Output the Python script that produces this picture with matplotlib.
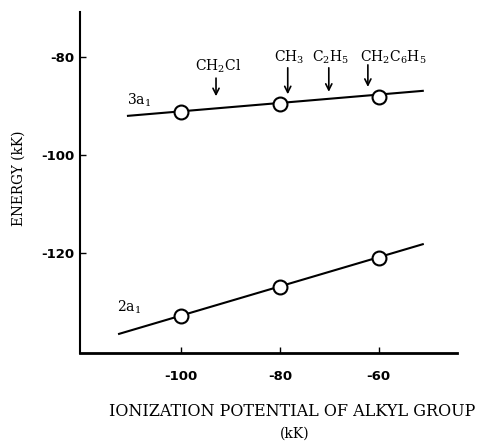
import matplotlib
matplotlib.use("Agg")
import matplotlib.pyplot as plt

# ionization potential of alkyl group (kK) and orbital energies (kK)
ip = [-100, -80, -60]
e_3a1 = [-91.2, -89.6, -88.2]
e_2a1 = [-132.9, -126.9, -121.0]

# drawn straight lines (end points)
line_3a1_x = [-110.7, -51.1]
line_3a1_y = [-92.0, -86.9]
line_2a1_x = [-112.5, -51.1]
line_2a1_y = [-136.5, -118.2]

# alkyl group markers: label, arrow x, arrow top, arrow tip, label x, label y
groups = ['CH$_2$Cl', 'CH$_3$', 'C$_2$H$_5$', 'CH$_2$C$_6$H$_5$']
group_x = [-92.9, -78.4, -70.1, -62.2]
arrow_top = [-84.3, -82.2, -82.2, -81.6]
arrow_tip = [-88.0, -87.6, -87.1, -86.1]
label_x = [-92.5, -78.2, -69.7, -57.0]
label_y = [-81.8, -80.0, -80.0, -80.0]

xticks = [-100, -80, -60]
yticks = [-80, -100, -120]

plt.rcParams['mathtext.fontset'] = 'dejavuserif'

fig = plt.figure(figsize=(4.83, 4.43), dpi=100)
ax = fig.add_axes([0.1656, 0.2032, 0.7804, 0.7698])

line_opts = {'color': 'black', 'linewidth': 1.5, 'zorder': 2}
marker_opts = {'linestyle': 'none', 'marker': 'o', 'markersize': 10,
               'markerfacecolor': 'white', 'markeredgecolor': 'black',
               'markeredgewidth': 1.5, 'zorder': 3}

ax.plot(line_3a1_x, line_3a1_y, **line_opts)
ax.plot(line_2a1_x, line_2a1_y, **line_opts)
ax.plot(ip, e_3a1, **marker_opts)
ax.plot(ip, e_2a1, **marker_opts)

for name, gx, top, tip, lx, ly in zip(groups, group_x, arrow_top, arrow_tip, label_x, label_y):
    ax.annotate('', xy=(gx, tip), xytext=(gx, top),
                arrowprops=dict(arrowstyle='->', color='black', lw=1.2,
                                mutation_scale=11, shrinkA=0, shrinkB=0))
    ax.text(lx, ly, name, ha='center', va='center', fontsize=10, family='DejaVu Serif')

ax.text(-110.9, -88.8, '3a$_1$', ha='left', va='center', fontsize=10, family='DejaVu Serif')
ax.text(-112.9, -131.0, '2a$_1$', ha='left', va='center', fontsize=10, family='DejaVu Serif')

ax.set_xlim(-120.4, -44.2)
ax.set_ylim(-140.4, -70.8)
ax.spines['top'].set_visible(False)
ax.spines['right'].set_visible(False)
ax.spines['left'].set_linewidth(1.5)
ax.spines['bottom'].set_linewidth(2)
ax.set_xticks(xticks)
ax.set_yticks(yticks)
ax.set_xticklabels([str(t) for t in xticks])
ax.set_yticklabels([str(t) for t in yticks])
ax.tick_params(direction='in', length=4, width=1, labelsize=9.5)
for lab in ax.get_xticklabels() + ax.get_yticklabels():
    lab.set_fontweight('bold')
ax.tick_params(axis='x', pad=12)
ax.tick_params(axis='y', pad=4)

fig.text(292 / 483, 1 - 412 / 443, 'IONIZATION POTENTIAL OF ALKYL GROUP',
         ha='center', va='center', fontsize=11.5, family='DejaVu Serif')
fig.text(295 / 483, 1 - 434 / 443, '(kK)', ha='center', va='center', fontsize=10,
         family='DejaVu Serif')
fig.text(19 / 483, 1 - 178 / 443, 'ENERGY (kK)', rotation=90, ha='center', va='center',
         fontsize=9.8, family='DejaVu Serif')

fig.savefig('out.png', dpi=100)
